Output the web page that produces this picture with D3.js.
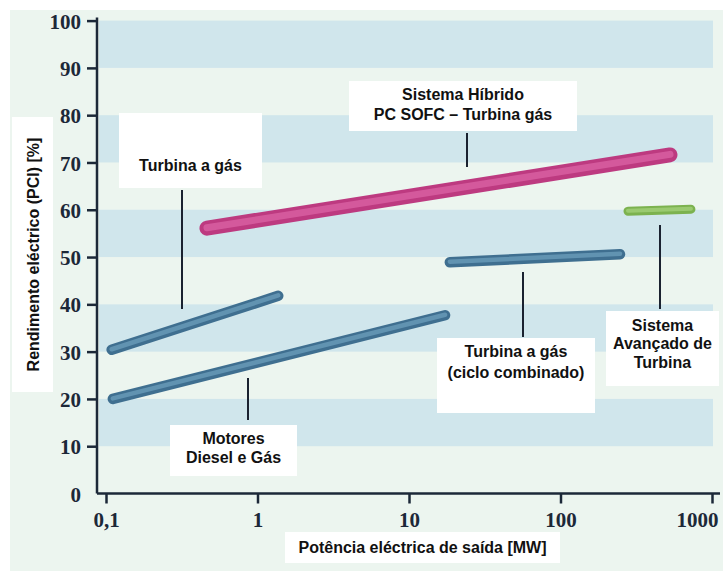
<!DOCTYPE html>
<html>
<head>
<meta charset="utf-8">
<script src="https://cdn.jsdelivr.net/npm/d3@7/dist/d3.min.js"></script>
<style>
  html, body { margin: 0; padding: 0; background: #ffffff; }
  svg { display: block; }
</style>
</head>
<body>
<script>
// Electrical efficiency vs. output power of generation technologies
const technologies = [
  "Turbina a gás",
  "Motores Diesel e Gás",
  "Turbina a gás (ciclo combinado)",
  "Sistema Híbrido PC SOFC – Turbina gás",
  "Sistema Avançado de Turbina"
];
const powerStart = [0.109, 0.111, 18.6, 0.464, 279];   // MW
const powerEnd   = [1.37, 17.3, 247, 528, 726];        // MW
const effStart   = [30.4, 20.0, 48.9, 56.1, 59.7];     // %
const effEnd     = [41.8, 37.7, 50.6, 71.6, 60.1];     // %
const techGroup  = ["blue", "blue", "blue", "pink", "green"];

const xTickValues = [0.1, 1, 10, 100, 1000];
const xTickLabels = ["0,1", "1", "10", "100", "1000"];
const yTickValues = [0, 10, 20, 30, 40, 50, 60, 70, 80, 90, 100];
const bandRanges  = [[10, 20], [30, 40], [50, 60], [70, 80], [90, 100]];

const W = 723, H = 571;
const svg = d3.select("body").append("svg").attr("width", W).attr("height", H);

const x = d3.scaleLog().domain([0.1, 1000]).range([106, 712]);
const y = d3.scaleLinear().domain([0, 100]).range([493.5, 20.6]);

const styles = {
  blue:  { outer: "#3f6f90", inner: "#6d9fbd", w: 10.5, iw: 4.5 },
  pink:  { outer: "#bd3a80", inner: "#dc64a6", w: 15,   iw: 7 },
  green: { outer: "#7cb24f", inner: "#a5d37c", w: 9,    iw: 4 }
};

// panel background
svg.append("rect").attr("x", 10).attr("y", 10).attr("width", W - 10).attr("height", H - 10)
  .attr("fill", "#ecf5ef");

// horizontal bands
svg.append("g").selectAll("rect").data(bandRanges).join("rect")
  .attr("x", 99).attr("width", 713 - 99)
  .attr("y", d => y(d[1]))
  .attr("height", d => y(d[0]) - y(d[1]))
  .attr("fill", "#d0e6ec");

// technology ranges as thick rounded bars
const rows = technologies.map((t, i) => ({
  name: t, x0: powerStart[i], x1: powerEnd[i], y0: effStart[i], y1: effEnd[i], s: styles[techGroup[i]]
}));
const marks = svg.append("g");
marks.selectAll("line.outer").data(rows).join("line")
  .attr("class", "outer")
  .attr("x1", d => x(d.x0)).attr("y1", d => y(d.y0))
  .attr("x2", d => x(d.x1)).attr("y2", d => y(d.y1))
  .attr("stroke", d => d.s.outer).attr("stroke-width", d => d.s.w)
  .attr("stroke-linecap", "round");
marks.selectAll("line.inner").data(rows).join("line")
  .attr("class", "inner")
  .attr("x1", d => x(d.x0)).attr("y1", d => y(d.y0) - 0.5)
  .attr("x2", d => x(d.x1)).attr("y2", d => y(d.y1) - 0.5)
  .attr("stroke", d => d.s.inner).attr("stroke-width", d => d.s.iw)
  .attr("stroke-linecap", "round").attr("opacity", 0.75);

// axes
const axisColor = "#1c2838";
const yAxis = d3.axisLeft(y).tickValues(yTickValues).tickSize(10).tickPadding(6).tickFormat(d3.format("d"));
const gy = svg.append("g").attr("transform", "translate(97,0)").call(yAxis);
gy.select(".domain").attr("d", `M0,${y(100) - 3}V${y(0)}`);

const xAxis = d3.axisBottom(x).tickValues(xTickValues).tickSize(10).tickPadding(6)
  .tickFormat((d, i) => xTickLabels[i]);
const gx = svg.append("g").attr("transform", `translate(0,${y(0)})`).call(xAxis);
gx.select(".domain").attr("d", "M97,0H720");

[gx, gy].forEach(g => {
  g.selectAll(".domain").attr("stroke", axisColor).attr("stroke-width", 2.5);
  g.selectAll(".tick line").attr("stroke", axisColor).attr("stroke-width", 2.5);
  g.selectAll(".tick text")
    .attr("fill", axisColor)
    .style("font-family", "'Liberation Serif', 'Times New Roman', serif")
    .style("font-weight", "bold")
    .style("font-size", "21px");
});
gy.selectAll(".tick").filter(d => d === 0).select("line").remove();
gy.selectAll(".tick text").attr("x", -16).attr("dy", "0.36em");
gx.selectAll(".tick text").attr("dy", "0.85em");
// keep the last label inside the panel
gx.selectAll(".tick").filter(d => d === 1000).select("text")
  .attr("text-anchor", "end").attr("x", 6);

// annotation boxes, texts and leader lines
const labelFont = "'Liberation Sans', Arial, sans-serif";
const annotations = [
  { box: [119, 113, 143, 75], lines: ["Turbina a gás"], cx: 190.5, ty: [165], leader: [182, 190, 182, 309] },
  { box: [349, 81, 228, 50], lines: ["Sistema Híbrido", "PC SOFC – Turbina gás"], cx: 463, ty: [94, 114], leader: [467, 133, 467, 167] },
  { box: [170, 425, 127, 51], lines: ["Motores", "Diesel e Gás"], cx: 233.5, ty: [438, 457], leader: [248, 378, 248, 420] },
  { box: [437, 338, 158, 75], lines: ["Turbina a gás", "(ciclo combinado)"], cx: 516, ty: [351, 372], leader: [523, 272, 523, 337] },
  { box: [606, 311, 113, 75], lines: ["Sistema", "Avançado de", "Turbina"], cx: 662.5, ty: [325, 343.5, 362], leader: [660, 225, 660, 309] }
];
const ann = svg.append("g");
annotations.forEach(a => {
  ann.append("rect").attr("x", a.box[0]).attr("y", a.box[1]).attr("width", a.box[2]).attr("height", a.box[3])
    .attr("fill", "#ffffff");
  a.lines.forEach((t, i) => {
    ann.append("text").attr("x", a.cx).attr("y", a.ty[i]).attr("dy", "0.35em")
      .attr("text-anchor", "middle")
      .style("font-family", labelFont).style("font-weight", "bold").style("font-size", "16px")
      .attr("fill", "#111111").text(t);
  });
  ann.append("line").attr("x1", a.leader[0]).attr("y1", a.leader[1]).attr("x2", a.leader[2]).attr("y2", a.leader[3])
    .attr("stroke", "#1a2230").attr("stroke-width", 2);
});

// axis titles
svg.append("rect").attr("x", 12).attr("y", 117).attr("width", 41).attr("height", 275).attr("fill", "#ffffff");
svg.append("text")
  .attr("transform", "translate(33,254.5) rotate(-90)")
  .attr("text-anchor", "middle").attr("dy", "0.35em")
  .style("font-family", labelFont).style("font-weight", "bold").style("font-size", "16px")
  .attr("fill", "#111111").text("Rendimento eléctrico (PCI) [%]");

svg.append("rect").attr("x", 285).attr("y", 532).attr("width", 275).attr("height", 31).attr("fill", "#ffffff");
svg.append("text")
  .attr("x", 422.5).attr("y", 547.5).attr("dy", "0.35em")
  .attr("text-anchor", "middle")
  .style("font-family", labelFont).style("font-weight", "bold").style("font-size", "16px")
  .attr("fill", "#111111").text("Potência eléctrica de saída [MW]");
</script>
</body>
</html>
